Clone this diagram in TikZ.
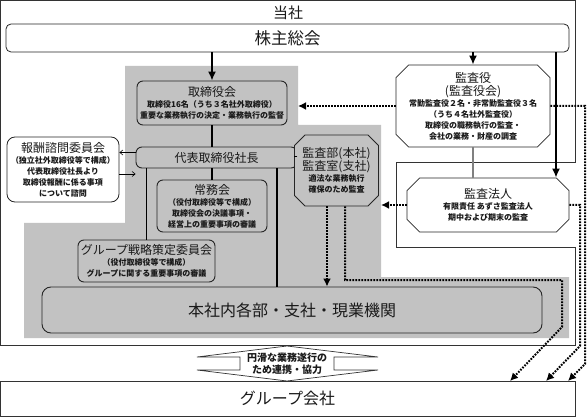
\documentclass[tikz,border=0pt]{standalone}
\usepackage{fontspec}
\setmainfont{Noto Sans CJK JP}
\usetikzlibrary{shapes.misc,arrows.meta}

\definecolor{orggray}{gray}{0.76}
\definecolor{linkgray}{gray}{0.5}
\newcommand{\ttl}[1]{{\fontsize{12}{14}\selectfont\mdseries #1}}

\tikzset{
  every node/.style={text=black!90},
  orgbox/.style={draw=black!85, line width=0.9pt, rounded corners=6pt, fill=orggray,
    align=center, inner sep=2pt, font=\fontsize{8}{11}\selectfont\bfseries},
  whitebox/.style={orgbox, fill=white, line width=0.8pt},
  auditbox/.style={draw=black!85, line width=0.8pt, chamfered rectangle,
    chamfered rectangle xsep=9pt, align=center, inner sep=1pt,
    font=\fontsize{8}{11}\selectfont\bfseries},
  mainline/.style={line width=1.6pt},
  mainarrow/.style={mainline, -{Latex[length=9pt,width=8pt]}},
  thinarrow/.style={line width=0.6pt, -{Straight Barb[length=3pt,width=5pt]}},
  dotarrow/.style={line width=2pt, dash pattern=on 1.7pt off 1.3pt,
    -{Latex[length=8pt,width=8pt]}},
}

\begin{document}
\begin{tikzpicture}[x=1pt,y=-1pt]
\useasboundingbox (0,0) rectangle (587,417);

% company frame, auditing firm kept outside
\draw[black!80, line width=0.8pt] (0.5,0.5) -- (575,0.5) -- (575,162) -- (396,162)
  -- (396,247) -- (575,247) -- (575,345) -- (0.5,345) -- cycle;
\node[font=\fontsize{15}{17}\selectfont] (tousha) at (288,13) {当社};

% gray area
\coordinate (grayA) at (298,66);
\coordinate (grayB) at (381,125);
\fill[orggray] (125,66) -- (grayA) -- (298,125) -- (grayB) -- (381,277) -- (569,277)
  -- (569,338) -- (24,338) -- (24,223) -- (125,223) -- cycle;

\node[whitebox, rounded corners=5pt, minimum width=563, minimum height=28,
  font=\fontsize{16.5}{18}\selectfont] (kabunushi) at (287.5,38) {株主総会};

\node[orgbox, minimum width=150, minimum height=44] (torishimari) at (212,103)
  {\ttl{取締役会}\\取締役16名（うち３名社外取締役）\\重要な業務執行の決定・業務執行の監督};
\node[orgbox, minimum width=161, minimum height=21, font=\fontsize{12}{14}\selectfont]
  (daihyo) at (216.5,157.5) {代表取締役社長};
\node[whitebox, rounded corners=8pt, minimum width=112, minimum height=65]
  (houshu) at (63,169.5)
  {\ttl{報酬諮問委員会}\\（独立社外取締役等で構成）\\代表取締役社長より\\取締役報酬に係る事項\\について諮問};
\node[orgbox, minimum width=110, minimum height=52] (joumukai) at (212,206)
  {\ttl{常務会}\\（役付取締役等で構成）\\取締役会の決議事項・\\経営上の重要事項の審議};
\node[orgbox, minimum width=137, minimum height=42] (senryaku) at (146.5,261)
  {\ttl{グループ戦略策定委員会}\\（役付取締役等で構成）\\グループに関する重要事項の審議};
\node[orgbox, rounded corners=9pt, minimum width=500, minimum height=46,
  font=\fontsize{16}{18}\selectfont] (honsha) at (292,310) {本社内各部・支社・現業機関};

\node[auditbox, fill=orggray, chamfered rectangle xsep=7pt, minimum width=83,
  minimum height=71] (kansabu) at (336.5,170.5)
  {\ttl{監査部(本社)}\\\ttl{監査室(支社)}\\適法な業務執行\\確保のため監査};
\node[auditbox, fill=white, minimum width=154, minimum height=82] (kansayaku) at (473,106)
  {\ttl{監査役}\\[1pt]\ttl{(監査役会)}\\常勤監査役２名・非常勤監査役３名\\（うち４名社外監査役）\\取締役の職務執行の監査・\\会社の業務・財産の調査};
\node[auditbox, fill=white, minimum width=162, minimum height=54] (hojin) at (488,205)
  {\ttl{監査法人}\\有限責任\ あずさ監査法人\\期中および期末の監査};

\node[draw=black!80, line width=0.8pt, minimum width=575, minimum height=35,
  font=\fontsize{16}{18}\selectfont] (groupco) at (287.5,398.5) {グループ会社};

% cooperation arrow shape
\draw[black!80, line width=0.7pt, fill=white] (197,357) -- (240,357) -- (240,370)
  -- (197,370) -- (287,381) -- (378,370) -- (334,370) -- (334,357) -- (378,357)
  -- (287,346) -- cycle;
\node[align=center, font=\fontsize{10}{12}\selectfont\bfseries] (renkei) at (287,363.5)
  {円滑な業務遂行の\\ため連携・協力};

% solid connectors
\coordinate (hojinIn) at ([xshift=68pt]hojin.north);
\coordinate (daihyoOut) at ([xshift=60.5pt]daihyo.south);
\draw[mainarrow] (torishimari.north |- kabunushi.south) -- (torishimari.north);
\draw[mainarrow] (kansayaku.north |- kabunushi.south) -- (kansayaku.north);
\draw[mainarrow] (hojinIn |- kabunushi.south) -- (hojinIn);
\draw[mainline] (torishimari.south) -- (torishimari.south |- daihyo.north);
\draw[mainline] (senryaku.north |- daihyo.south) -- (senryaku.north);
\draw[mainline] (joumukai.north |- daihyo.south) -- (joumukai.north);
\draw[mainline] (daihyoOut) -- (daihyoOut |- honsha.north);
\draw[mainline] ([yshift=1pt]daihyo.east) -- ([yshift=1pt]daihyo.east -| kansabu.west);
\draw[thinarrow] ([yshift=5pt]daihyo.west) -- ([yshift=5pt]daihyo.west -| houshu.east);
\draw[thinarrow] ([yshift=-4.5pt]houshu.east) -- ([yshift=-4.5pt]houshu.east -| daihyo.west);
\draw[linkgray, line width=1.4pt] (kansayaku.south) -- (kansayaku.south |- hojin.north);

% audit connectors
\coordinate (kbL) at ([xshift=-9.5pt]kansabu.south);
\coordinate (kbR) at ([xshift=8.5pt]kansabu.south);
\coordinate (bendA) at (562,280);
\coordinate (bendB) at (562,327);
\coordinate (tipA) at (510,381);
\coordinate (bendC) at (580,346);
\coordinate (tipB) at (546,381);
\coordinate (bendD) at (585,364);
\coordinate (tipC) at (568,381);
\draw[dotarrow] (kansayaku.west) -- (kansayaku.west -| grayA);
\draw[dotarrow] (hojin.west) -- (hojin.west -| grayB);
\draw[dotarrow] (kbL) -- (kbL |- honsha.north);
\draw[dotarrow] (kbR) |- (bendA) -- (bendB) -- (tipA);
\draw[dotarrow] (hojin.east) -| (bendC) -- (tipB);
\draw[dotarrow] (kansayaku.east) -| (bendD) -- (tipC);
\end{tikzpicture}
\end{document}
